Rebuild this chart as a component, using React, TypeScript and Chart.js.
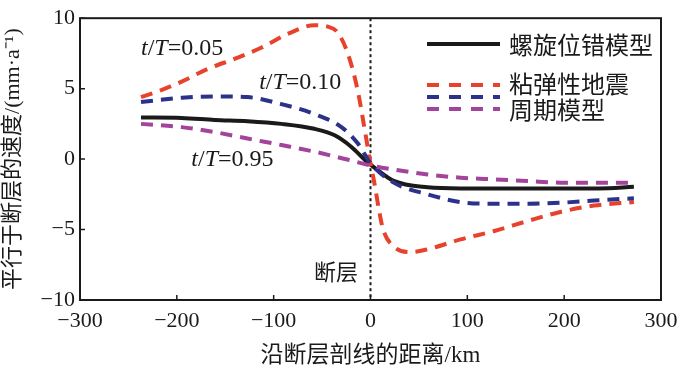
import React, { useEffect, useRef } from "react";
import { Chart, registerables } from "chart.js";

Chart.register(...registerables);

// Spiral dislocation model (black solid)
const screwX = [-237, -195, -161, -127, -92, -58, -37, -20, -6, 4, 24, 59, 93, 150, 236, 272];
const screwY = [2.95, 2.92, 2.78, 2.69, 2.5, 2.15, 1.69, 0.88, -0.05, -0.6, -1.55, -2.0, -2.08, -2.08, -2.08, -1.97];

// Viscoelastic earthquake cycle model, t/T = 0.05 (red)
const redX = [-237, -216, -195, -168, -137, -113, -85, -58, -44, -34, -23, -13, -7, 0, 4, 9, 13, 24, 42, 59, 93, 128, 162, 196, 231, 272];
const redY = [4.4, 4.9, 5.5, 6.4, 7.2, 7.9, 8.9, 9.5, 9.4, 9.0, 7.4, 4.8, 2.5, -0.3, -1.7, -3.7, -5.0, -6.2, -6.6, -6.4, -5.7, -5.1, -4.4, -3.75, -3.3, -3.05];

// t/T = 0.10 (blue)
const blueX = [-237, -195, -161, -127, -92, -58, -30, -13, 0, 24, 59, 93, 128, 162, 196, 231, 272];
const blueY = [4.05, 4.35, 4.45, 4.4, 3.9, 3.2, 2.27, 1.1, -0.3, -1.67, -2.5, -3.05, -3.17, -3.17, -3.1, -2.94, -2.78];

// t/T = 0.95 (purple)
const purpleX = [-237, -195, -161, -127, -92, -58, -23, 0, 24, 59, 93, 128, 162, 196, 231, 272];
const purpleY = [2.5, 2.27, 1.92, 1.46, 1.0, 0.53, -0.05, -0.45, -0.74, -1.09, -1.32, -1.44, -1.55, -1.67, -1.67, -1.67];

const xTicks = [-300, -200, -100, 0, 100, 200, 300];
const yTicks = [-10, -5, 0, 5, 10];

const legendLabels = ["螺旋位错模型", "粘弹性地震", "周期模型"];
const annotations = [
  { x: -237, y: 7.4, v: "0.05" },
  { x: -115, y: 5.0, v: "0.10" },
  { x: -185, y: -0.5, v: "0.95" },
];

const RED = "#e8412c";
const BLUE = "#2c318a";
const PURPLE = "#a2449c";
const INK = "#1a1a1a";
const SERIF = "'Liberation Serif', 'Times New Roman', 'Noto Sans CJK SC', serif";
const CJK = "'Noto Sans CJK SC', sans-serif";

const zip = (xs: number[], ys: number[]) => xs.map((x, i) => ({ x, y: ys[i] }));

const overlay = {
  id: "overlay",
  beforeDatasetsDraw(chart: any) {
    const { ctx, chartArea, scales } = chart;
    const x0 = scales.x.getPixelForValue(0);
    ctx.save();
    ctx.strokeStyle = INK;
    ctx.lineWidth = 2;
    ctx.setLineDash([3, 3]);
    ctx.beginPath();
    ctx.moveTo(x0, chartArea.top);
    ctx.lineTo(x0, chartArea.bottom);
    ctx.stroke();
    ctx.restore();
  },
  afterDraw(chart: any) {
    const { ctx, chartArea, scales } = chart;
    const { left, right, top, bottom } = chartArea;
    ctx.save();
    // frame
    ctx.strokeStyle = INK;
    ctx.lineWidth = 2;
    ctx.setLineDash([]);
    ctx.strokeRect(left, top, right - left, bottom - top);
    // inner ticks
    ctx.lineWidth = 1.5;
    ctx.beginPath();
    xTicks.forEach((t) => {
      const px = scales.x.getPixelForValue(t);
      ctx.moveTo(px, bottom);
      ctx.lineTo(px, bottom - 5);
    });
    yTicks.forEach((t) => {
      const py = scales.y.getPixelForValue(t);
      ctx.moveTo(left, py);
      ctx.lineTo(left + 5, py);
    });
    ctx.stroke();

    // legend
    const lx0 = 427;
    const lx1 = 500;
    const rows = [
      { y: 44, color: INK, dash: [] as number[] },
      { y: 85, color: RED, dash: [12, 10] },
      { y: 97, color: BLUE, dash: [12, 10] },
      { y: 109, color: PURPLE, dash: [12, 10] },
    ];
    ctx.lineWidth = 4;
    rows.forEach((r) => {
      ctx.strokeStyle = r.color;
      ctx.setLineDash(r.dash);
      ctx.beginPath();
      ctx.moveTo(lx0, r.y);
      ctx.lineTo(lx1, r.y);
      ctx.stroke();
    });
    ctx.setLineDash([]);
    ctx.fillStyle = INK;
    ctx.font = `24px ${CJK}`;
    ctx.textBaseline = "middle";
    ctx.textAlign = "left";
    ctx.fillText(legendLabels[0], 509, 45);
    ctx.fillText(legendLabels[1], 509, 84);
    ctx.fillText(legendLabels[2], 509, 110);

    // fault label
    ctx.font = `22px ${CJK}`;
    ctx.textAlign = "right";
    ctx.fillText("断层", 358, 272);

    // t/T annotations
    ctx.textAlign = "left";
    ctx.textBaseline = "alphabetic";
    annotations.forEach((a) => {
      let px = scales.x.getPixelForValue(a.x);
      const py = scales.y.getPixelForValue(a.y);
      const parts: [string, boolean][] = [["t", true], ["/", false], ["T", true], ["=" + a.v, false]];
      parts.forEach(([s, it]) => {
        ctx.font = `${it ? "italic " : ""}24px ${SERIF}`;
        ctx.fillText(s, px, py);
        px += ctx.measureText(s).width;
      });
    });
    ctx.restore();
  },
};

export default function App() {
  const ref = useRef<HTMLCanvasElement | null>(null);
  useEffect(() => {
    document.body.style.margin = "0";
    const canvas = ref.current!;
    const line = (label: string, data: any, color: string, dash: number[]) => ({
      label,
      data,
      borderColor: color,
      backgroundColor: color,
      borderWidth: 4,
      borderDash: dash,
      pointRadius: 0,
      tension: 0.4,
      cubicInterpolationMode: "monotone" as const,
      fill: false,
    });
    const fmt = (v: any) => (Number(v) < 0 ? "−" + Math.abs(Number(v)) : String(v));
    const chart = new Chart(canvas, {
      type: "line",
      data: {
        datasets: [
          line("t/T=0.95", zip(purpleX, purpleY), PURPLE, [12, 8]),
          line("t/T=0.10", zip(blueX, blueY), BLUE, [12, 8]),
          line("t/T=0.05", zip(redX, redY), RED, [12, 8]),
          line("螺旋位错模型", zip(screwX, screwY), INK, []),
        ],
      },
      plugins: [overlay],
      options: {
        animation: false,
        responsive: false,
        maintainAspectRatio: false,
        layout: { padding: { top: 12, right: 39, left: 0, bottom: 0 } },
        plugins: { legend: { display: false }, tooltip: { enabled: false } },
        scales: {
          x: {
            type: "linear",
            min: -300,
            max: 300,
            afterBuildTicks: (s: any) => {
              s.ticks = xTicks.map((v) => ({ value: v }));
            },
            afterFit: (s: any) => {
              s.height = 72;
            },
            grid: { display: false, drawTicks: false },
            border: { display: false },
            ticks: {
              color: INK,
              padding: 8,
              maxRotation: 0,
              font: { family: SERIF, size: 22 },
              callback: fmt,
            },
            title: {
              display: true,
              text: "沿断层剖线的距离/km",
              color: INK,
              font: { family: SERIF, size: 23 },
              padding: { top: 0, bottom: 2 },
            },
          },
          y: {
            type: "linear",
            min: -10,
            max: 10,
            afterBuildTicks: (s: any) => {
              s.ticks = yTicks.map((v) => ({ value: v }));
            },
            afterFit: (s: any) => {
              s.width = 80;
            },
            grid: { display: false, drawTicks: false },
            border: { display: false },
            ticks: {
              color: INK,
              padding: 5,
              font: { family: SERIF, size: 22 },
              callback: fmt,
            },
            title: {
              display: true,
              text: "平行于断层的速度/(mm·a⁻¹)",
              color: INK,
              font: { family: SERIF, size: 22 },
              padding: { top: 0, bottom: 0 },
            },
          },
        },
      },
    });
    const fonts: any = (document as any).fonts;
    if (fonts && fonts.load) {
      Promise.all([
        fonts.load("22px 'Liberation Serif'"),
        fonts.load("italic 24px 'Liberation Serif'"),
        fonts.load("24px 'Noto Sans CJK SC'"),
      ])
        .then(() => {
          if ((chart as any).ctx) chart.update();
        })
        .catch(() => {});
    }
    return () => chart.destroy();
  }, []);
  return (
    <div style={{ position: "fixed", left: 0, top: 0, width: 700, height: 372, background: "#fff" }}>
      <canvas ref={ref} width={700} height={372} style={{ width: 700, height: 372 }} />
    </div>
  );
}
